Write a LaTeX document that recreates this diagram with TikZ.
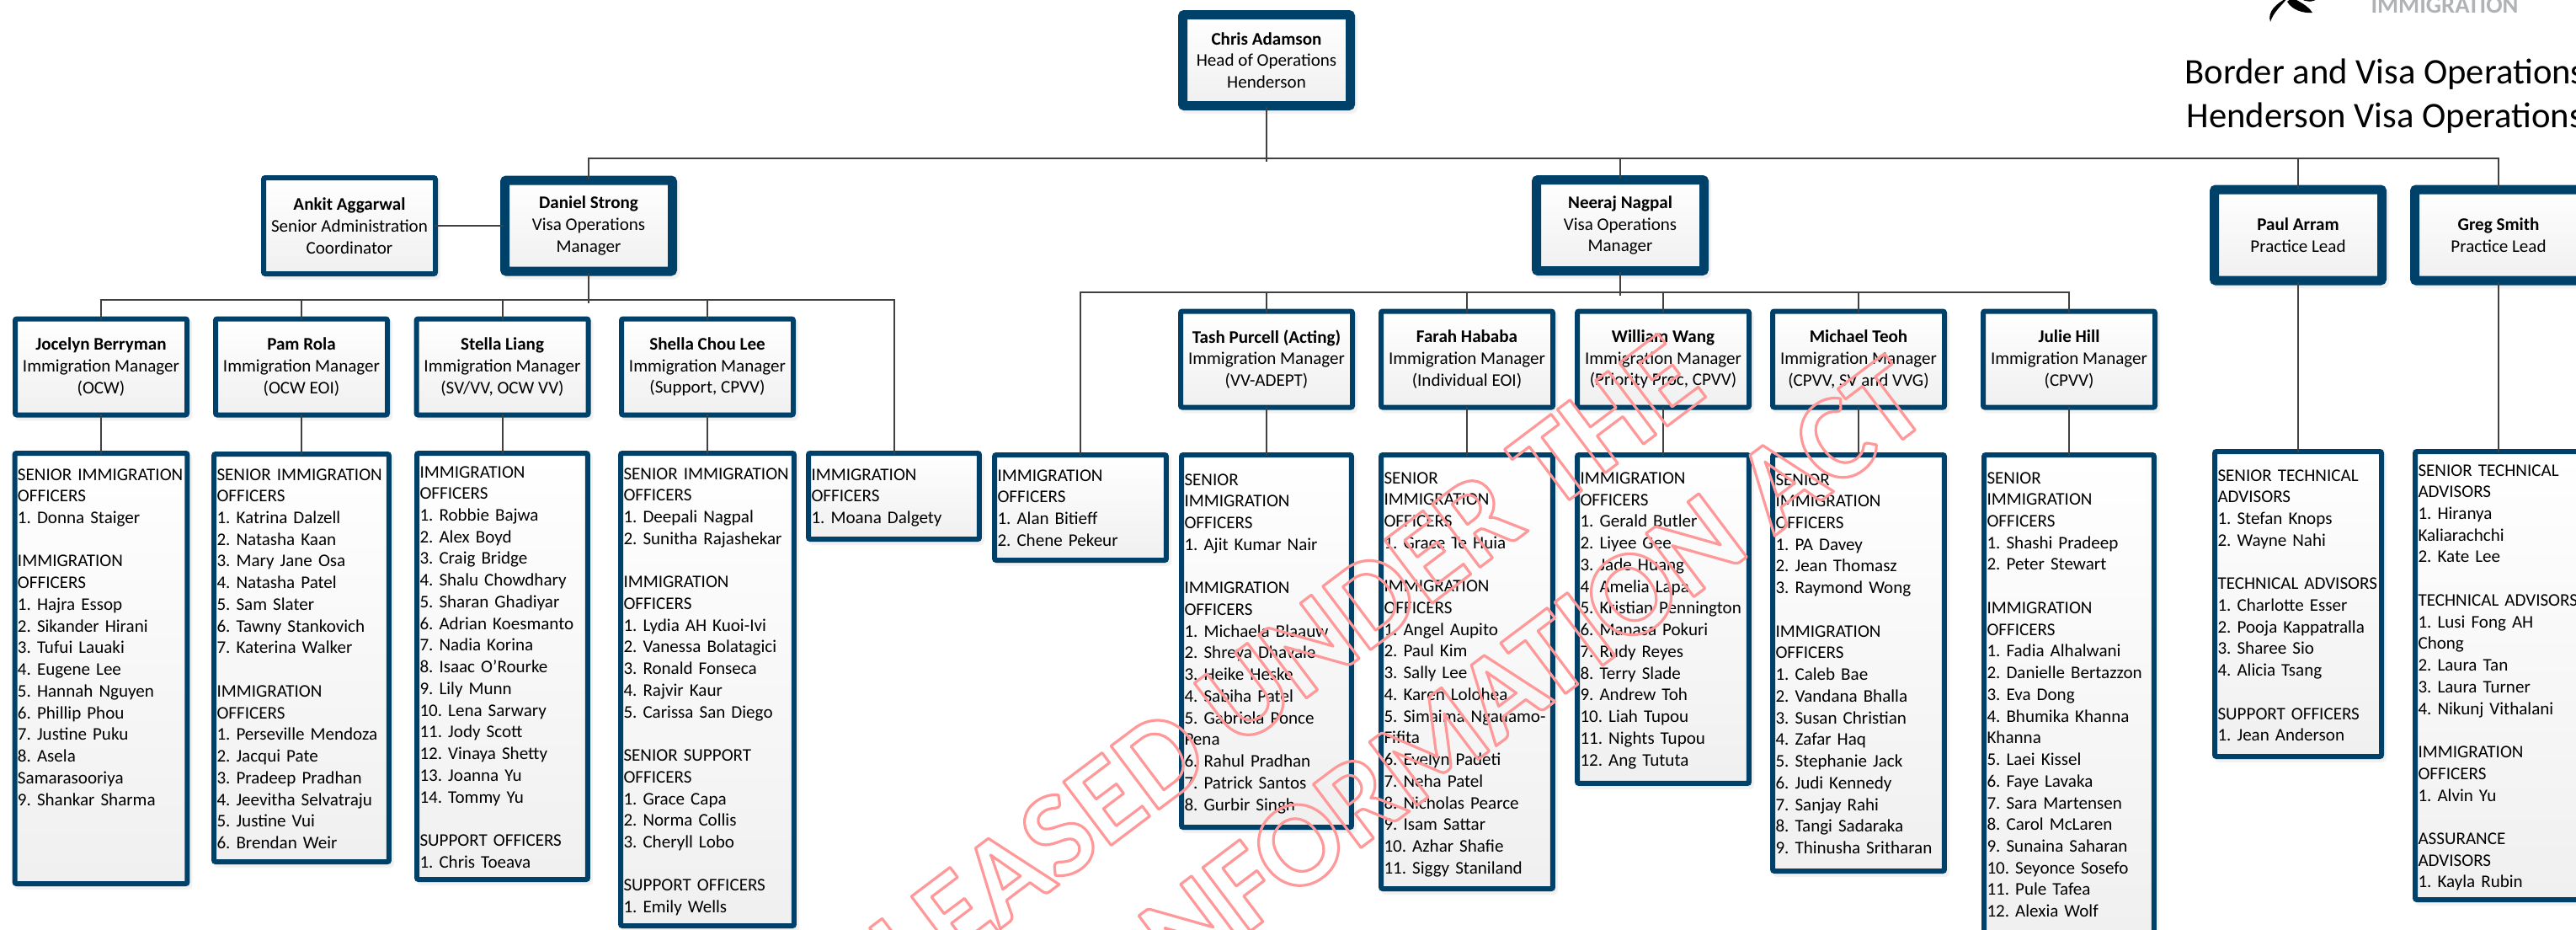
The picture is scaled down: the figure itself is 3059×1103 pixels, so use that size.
\documentclass[tikz,border=0pt]{standalone}
\usepackage{fontspec}
\setmainfont{Carlito}
\usetikzlibrary{shadows}
\frenchspacing

\definecolor{boxblue}{RGB}{0,65,106}
\definecolor{linegrey}{RGB}{64,64,64}
\definecolor{stampred}{RGB}{255,153,153}
\definecolor{logogrey}{RGB}{176,179,182}

\tikzset{every picture/.style={line width=0.75pt}}
\tikzset{
	orgbox/.style={draw=boxblue,top color=white,bottom color=black!6,rounded corners=1.5pt,inner sep=0pt,
		drop shadow={shadow xshift=2.25pt,shadow yshift=-3pt,fill=black!10,draw=black!10},
		font=\fontsize{15.8}{19.3}\selectfont},
	headbox/.style={orgbox,line width=8.25pt,minimum width=149.25pt,minimum height=81pt,align=center},
	rolebox/.style={orgbox,line width=4.5pt,minimum width=153pt,minimum height=85.5pt,align=center},
	listbox/.style n args={3}{orgbox,line width=4.5pt,anchor=north,inner xsep=2.6pt,align=left,
		text width=#1,text height=#2,text depth=#3},
	link/.style={draw=linegrey,line width=1.5pt,shorten >=-3pt,shorten <=-3pt},
	stamp/.style={anchor=base east,rotate=37,inner sep=0pt,text=stampred,font=\fontsize{109}{109}\selectfont\bfseries},
}

\begin{document}
\begin{tikzpicture}[x=0.75pt,y=0.75pt,yscale=-1,xscale=1]
	\useasboundingbox (0,0) rectangle (3059,1103);
	
	% Logo
	\fill (2696,26) .. controls (2692,14) and (2703,4) .. (2717,-3) .. controls (2708,8) and (2700,14) .. (2696,26) -- cycle ;
	\fill (2716,2) .. controls (2722,12) and (2735,16) .. (2746,15) .. controls (2740,6) and (2730,2) .. (2722,-3) -- cycle ;
	\fill (2732,-2) .. controls (2738,3) and (2746,3) .. (2753,-2) -- cycle ;
	\node [anchor=base west,inner sep=0pt,text=logogrey,font=\fontsize{21.5}{24}\selectfont\bfseries] (logotext) at (2815,15) {IMMIGRATION};
	% Text Node
	\node [anchor=west,inner sep=0pt,align=center,font=\fontsize{32}{39.4}\selectfont] (title) at (2594,114) {Border and Visa Operations\\Henderson Visa Operations};
	
	%Shape: Managers
	\node [headbox] (chris) at (1504,71.5) {\textbf{Chris Adamson}\\Head of Operations\\Henderson};
	\node [headbox] (daniel) at (699,268) {\textbf{Daniel Strong}\\Visa Operations\\Manager};
	\node [rolebox] (ankit) at (415,268) {\textbf{Ankit Aggarwal}\\Senior Administration\\Coordinator};
	\node [headbox] (neeraj) at (1924,267.5) {\textbf{Neeraj Nagpal}\\Visa Operations\\Manager};
	\node [headbox] (paul) at (2729,279) {\textbf{Paul Arram}\\Practice Lead};
	\node [headbox] (greg) at (2967,279) {\textbf{Greg Smith}\\Practice Lead};
	
	%Shape: Immigration Managers
	\node [rolebox] (jocelyn) at (120,435.5) {\textbf{Jocelyn Berryman}\\Immigration Manager\\(OCW)};
	\node [rolebox] (pam) at (358,435.5) {\textbf{Pam Rola}\\Immigration Manager\\(OCW EOI)};
	\node [rolebox] (stella) at (596.5,435.5) {\textbf{Stella Liang}\\Immigration Manager\\(SV/VV, OCW VV)};
	\node [rolebox] (shella) at (840,435.5) {\textbf{Shella Chou Lee}\\Immigration Manager\\(Support, CPVV)};
	\node [rolebox] (tash) at (1504,426.5) {\textbf{Tash Purcell (Acting)}\\Immigration Manager\\(VV-ADEPT)};
	\node [rolebox] (farah) at (1742,426.5) {\textbf{Farah Hababa}\\Immigration Manager\\(Individual EOI)};
	\node [rolebox] (william) at (1975,426.5) {\textbf{William Wang}\\Immigration Manager\\(Priority Proc, CPVV)};
	\node [rolebox] (michael) at (2207,426.5) {\textbf{Michael Teoh}\\Immigration Manager\\(CPVV, SV and VVG)};
	\node [rolebox] (julie) at (2457,426.5) {\textbf{Julie Hill}\\Immigration Manager\\(CPVV)};
	
	%Shape: Staff lists
	\node [listbox={148.5pt}{24pt}{359.25pt}] (jocelynlist) at (120,535) {\mbox{SENIOR IMMIGRATION}\\OFFICERS\\1. Donna Staiger\\[19.3pt]IMMIGRATION\\OFFICERS\\1. Hajra Essop\\2. Sikander Hirani\\3. Tufui Lauaki\\4. Eugene Lee\\5. Hannah Nguyen\\6. Phillip Phou\\7. Justine Puku\\8. Asela\\Samarasooriya\\9. Shankar Sharma};
	\node [listbox={150.75pt}{23.25pt}{339.75pt}] (pamlist) at (358,536) {\mbox{SENIOR IMMIGRATION}\\OFFICERS\\1. Katrina Dalzell\\2. Natasha Kaan\\3. Mary Jane Osa\\4. Natasha Patel\\5. Sam Slater\\6. Tawny Stankovich\\7. Katerina Walker\\[19.3pt]IMMIGRATION\\OFFICERS\\1. Perseville Mendoza\\2. Jacqui Pate\\3. Pradeep Pradhan\\4. Jeevitha Selvatraju\\5. Justine Vui\\6. Brendan Weir};
	\node [listbox={147pt}{21.75pt}{357.75pt}] (stellalist) at (596.5,535) {IMMIGRATION\\OFFICERS\\1. Robbie Bajwa\\2. Alex Boyd\\3. Craig Bridge\\4. Shalu Chowdhary\\5. Sharan Ghadiyar\\6. Adrian Koesmanto\\7. Nadia Korina\\8. Isaac O'Rourke\\9. Lily Munn\\10. Lena Sarwary\\11. Jody Scott\\12. Vinaya Shetty\\13. Joanna Yu\\14. Tommy Yu\\[19.3pt]SUPPORT OFFICERS\\1. Chris Toeava};
	\node [listbox={149.25pt}{23.25pt}{397.5pt}] (shellalist) at (840,535) {\mbox{SENIOR IMMIGRATION}\\OFFICERS\\1. Deepali Nagpal\\2. Sunitha Rajashekar\\[19.3pt]IMMIGRATION\\OFFICERS\\1. Lydia AH Kuoi-Ivi\\2. Vanessa Bolatagici\\3. Ronald Fonseca\\4. Rajvir Kaur\\5. Carissa San Diego\\[19.3pt]SENIOR SUPPORT\\OFFICERS\\1. Grace Capa\\2. Norma Collis\\3. Cheryll Lobo\\[19.3pt]SUPPORT OFFICERS\\1. Emily Wells};
	\node [listbox={147pt}{24pt}{52.5pt}] (moanalist) at (1061.5,535) {IMMIGRATION\\OFFICERS\\1. Moana Dalgety};
	\node [listbox={147.75pt}{23.25pt}{70.5pt}] (alanlist) at (1283,537) {IMMIGRATION\\OFFICERS\\1. Alan Bitieff\\2. Chene Pekeur};
	\node [listbox={146.25pt}{27pt}{304.5pt}] (tashlist) at (1504,537) {SENIOR\\IMMIGRATION\\OFFICERS\\1. Ajit Kumar Nair\\[19.3pt]IMMIGRATION\\OFFICERS\\1. Michaela Blaauw\\2. Shreya Dhavale\\3. Heike Heske\\4. Sabiha Patel\\5. Gabriela Ponce\\Pena\\6. Rahul Pradhan\\7. Patrick Santos\\8. Gurbir Singh};
	\node [listbox={147.75pt}{25.5pt}{360.75pt}] (farahlist) at (1742,537) {SENIOR\\IMMIGRATION\\OFFICERS\\1. Grace Te Huia\\[19.3pt]IMMIGRATION\\OFFICERS\\1. Angel Aupito\\2. Paul Kim\\3. Sally Lee\\4. Karen Lolohea\\\mbox{5. Simaima Ngauamo-}\\Fifita\\6. Evelyn Padeti\\7. Neha Patel\\8. Nicholas Pearce\\9. Isam Sattar\\10. Azhar Shafie\\11. Siggy Staniland};
	\node [listbox={147.75pt}{25.875pt}{266.6pt}] (williamlist) at (1975,537) {IMMIGRATION\\OFFICERS\\1. Gerald Butler\\2. Liyee Gee\\3. Jade Huang\\4. Amelia Lapa\\5. Kristian Pennington\\6. Manasa Pokuri\\7. Rudy Reyes\\8. Terry Slade\\9. Andrew Toh\\10. Liah Tupou\\11. Nights Tupou\\12. Ang Tututa};
	\node [listbox={147.75pt}{27pt}{343.5pt}] (michaellist) at (2207,537) {SENIOR\\IMMIGRATION\\OFFICERS\\1. PA Davey\\2. Jean Thomasz\\3. Raymond Wong\\[19.3pt]IMMIGRATION\\OFFICERS\\1. Caleb Bae\\2. Vandana Bhalla\\3. Susan Christian\\4. Zafar Haq\\5. Stephanie Jack\\6. Judi Kennedy\\7. Sanjay Rahi\\8. Tangi Sadaraka\\9. Thinusha Sritharan};
	\node [listbox={146.25pt}{25.5pt}{407.25pt}] (julielist) at (2457,537) {SENIOR\\IMMIGRATION\\OFFICERS\\1. Shashi Pradeep\\2. Peter Stewart\\[19.3pt]IMMIGRATION\\OFFICERS\\1. Fadia Alhalwani\\2. Danielle Bertazzon\\3. Eva Dong\\4. Bhumika Khanna\\Khanna\\5. Laei Kissel\\6. Faye Lavaka\\7. Sara Martensen\\8. Carol McLaren\\9. Sunaina Saharan\\10. Seyonce Sosefo\\11. Pule Tafea\\12. Alexia Wolf};
	\node [listbox={143.25pt}{26.25pt}{245.25pt}] (paullist) at (2729,533) {SENIOR TECHNICAL\\ADVISORS\\1. Stefan Knops\\2. Wayne Nahi\\[19.3pt]\mbox{TECHNICAL ADVISORS}\\1. Charlotte Esser\\2. Pooja Kappatralla\\3. Sharee Sio\\4. Alicia Tsang\\[19.3pt]SUPPORT OFFICERS\\1. Jean Anderson};
	\node [listbox={143.25pt}{21.75pt}{377.25pt}] (greglist) at (2967,533) {SENIOR TECHNICAL\\ADVISORS\\1. Hiranya\\Kaliarachchi\\2. Kate Lee\\[19.3pt]\mbox{TECHNICAL ADVISORS}\\1. Lusi Fong AH\\Chong\\2. Laura Tan\\3. Laura Turner\\4. Nikunj Vithalani\\[19.3pt]IMMIGRATION\\OFFICERS\\1. Alvin Yu\\[19.3pt]ASSURANCE\\ADVISORS\\1. Kayla Rubin};
	
	%Straight Lines
	\coordinate (topbus) at (1504,188);
	\coordinate (danielbus) at (699,356);
	\coordinate (neerajbus) at (1924,347);
	\draw [link] (chris.south) -- (topbus);
	\foreach \target in {daniel,neeraj,paul,greg} {
		\draw [link] (topbus) -| (\target.north);
	}
	\draw [link] (ankit.east) -- (daniel.west);
	\draw [link] (daniel.south) -- (danielbus);
	\foreach \target in {jocelyn,pam,stella,shella,moanalist} {
		\draw [link] (danielbus) -| (\target.north);
	}
	\draw [link] (neeraj.south) -- (neerajbus);
	\foreach \target in {alanlist,tash,farah,william,michael,julie} {
		\draw [link] (neerajbus) -| (\target.north);
	}
	\foreach \boss in {jocelyn,pam,stella,shella,tash,farah,william,michael,julie,paul,greg} {
		\draw [link] (\boss.south) -- (\boss list.north);
	}
	
	% Text Node
	\node [stamp] (stampone) at (2030,468) {\special{pdf:code 1 Tr 2.4 w 1 j}LEASED UNDER THE\special{pdf:code 0 Tr}};
	\node [stamp] (stamptwo) at (2296,494) {\special{pdf:code 1 Tr 2.4 w 1 j}NFORMATION ACT\special{pdf:code 0 Tr}};
	
\end{tikzpicture}
\end{document}
